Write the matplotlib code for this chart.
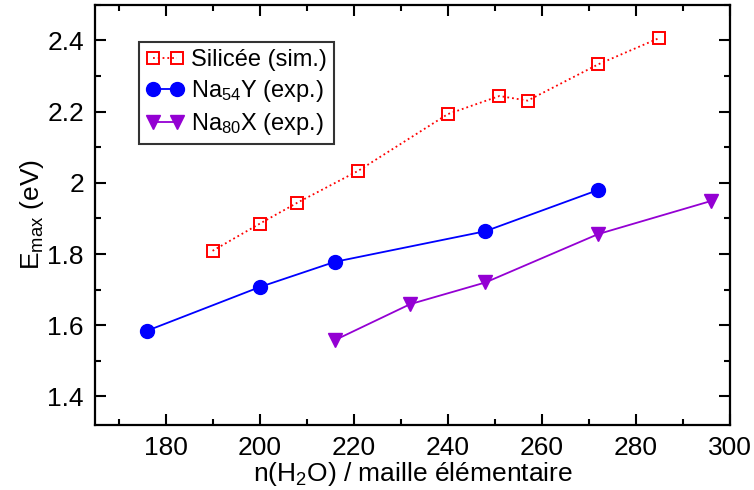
import matplotlib
matplotlib.use('Agg')
import matplotlib.pyplot as plt
from matplotlib.ticker import MultipleLocator

plt.rcParams['font.family'] = ['Liberation Sans', 'DejaVu Sans']
plt.rcParams['mathtext.fontset'] = 'custom'
plt.rcParams['mathtext.rm'] = 'Liberation Sans'
plt.rcParams['mathtext.it'] = 'Liberation Sans'
plt.rcParams['mathtext.default'] = 'rm'

# Silicée (sim.)
sil_x = [190, 200, 208, 221, 240, 251, 257, 272, 285]
sil_y = [1.809, 1.885, 1.944, 2.034, 2.193, 2.244, 2.231, 2.333, 2.407]

# Na54Y (exp.)
nay_x = [176, 200, 216, 248, 272]
nay_y = [1.584, 1.707, 1.778, 1.864, 1.980]

# Na80X (exp.)
nax_x = [216, 232, 248, 272, 296]
nax_y = [1.558, 1.659, 1.720, 1.856, 1.949]

fig = plt.figure(figsize=(7.54, 4.9), dpi=100)
ax = fig.add_axes([0.126, 0.133, 0.842, 0.857])

ax.plot(sil_x, sil_y, color='#ff0000', linestyle=':', linewidth=1.3,
        marker='s', markersize=8.5, markerfacecolor='none',
        markeredgecolor='#ff0000', markeredgewidth=1.4, label='Silicée (sim.)')
ax.plot(nay_x, nay_y, color='#0000ff', linestyle='-', linewidth=1.3,
        marker='o', markersize=10, label='Na$_{54}$Y (exp.)')
ax.plot(nax_x, nax_y, color='#9400d3', linestyle='-', linewidth=1.3,
        marker='v', markersize=10, label='Na$_{80}$X (exp.)')

ax.set_xlim(165, 300)
ax.set_ylim(1.32, 2.5)
ax.xaxis.set_minor_locator(MultipleLocator(10))
ax.yaxis.set_minor_locator(MultipleLocator(0.1))
ax.set_xticks([180, 200, 220, 240, 260, 280, 300])
ax.set_xticklabels(['180', '200', '220', '240', '260', '280', '300'])
ax.set_yticks([1.4, 1.6, 1.8, 2.0, 2.2, 2.4])
ax.set_yticklabels(['1.4', '1.6', '1.8', '2', '2.2', '2.4'])

ax.tick_params(which='both', direction='in', top=True, right=True, labelsize=19, width=1.5)
ax.tick_params(which='major', length=8, pad=8)
ax.tick_params(which='minor', length=4.5)
for sp in ax.spines.values():
    sp.set_linewidth(1.6)

ax.set_xlabel('n(H$_2$O) / maille élémentaire', fontsize=19, labelpad=0)
ax.set_ylabel('E$_{max}$ (eV)', fontsize=19, labelpad=1)

leg = ax.legend(loc='upper left', bbox_to_anchor=(0.069, 0.912), fontsize=17,
                frameon=True, fancybox=False, edgecolor='black', numpoints=2,
                handlelength=1.6, borderpad=0.3, labelspacing=0.3,
                handletextpad=0.3, borderaxespad=0)
leg.get_frame().set_linewidth(1.5)

plt.savefig('out.png', dpi=100)
plt.close()
